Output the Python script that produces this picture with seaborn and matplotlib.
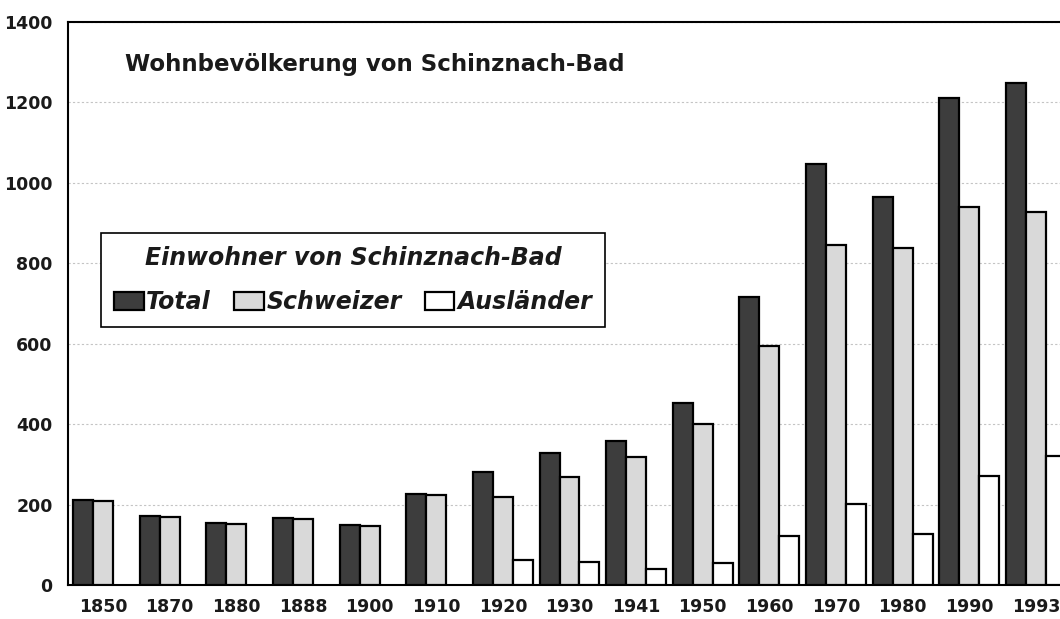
import numpy as np
import pandas as pd
import matplotlib
matplotlib.use("Agg")
import matplotlib.pyplot as plt
import seaborn as sns

# Daten: Wohnbevölkerung von Schinznach-Bad
jahre = ['1850', '1870', '1880', '1888', '1900', '1910', '1920', '1930',
         '1941', '1950', '1960', '1970', '1980', '1990', '1993']
total = [212, 172, 154, 167, 149, 226, 281, 328, 358, 453, 715, 1046, 965, 1211, 1249]
schweizer = [209, 170, 152, 165, 147, 224, 219, 269, 318, 400, 595, 846, 839, 941, 928]
auslaender = [np.nan] * 6 + [62, 57, 40, 55, 122, 201, 126, 270, 322]

gruppen = ['Total', 'Schweizer', 'Ausländer']
farben = ['#3d3d3d', '#d9d9d9', '#ffffff']

df = pd.DataFrame({
    'Jahr': jahre * 3,
    'Einwohner': total + schweizer + auslaender,
    'Gruppe': [g for g in gruppen for _ in jahre],
})

sns.set_style('white')
plt.rcParams['font.family'] = ['DejaVu Sans']

fig = plt.figure(figsize=(10.6, 6.19), dpi=100)
ax = fig.add_axes([68 / 1060, 34 / 619, 992 / 1060, 563 / 619])

sns.barplot(data=df, x='Jahr', y='Einwohner', hue='Gruppe', order=jahre,
            hue_order=gruppen, palette=farben, edgecolor='black',
            linewidth=1.6, width=0.9, gap=0, ax=ax, zorder=3)

ax.set_ylim(0, 1400)
ax.set_yticks(range(0, 1401, 200))
ax.set_xlim(-0.525, 14.36)
ax.set_xlabel('')
ax.set_ylabel('')
ax.yaxis.grid(True, color='#c4c4c4', linestyle=(0, (2, 2)), linewidth=0.8, zorder=0)
ax.xaxis.grid(False)

for s in ['left', 'bottom', 'top']:
    ax.spines[s].set_color('black')
    ax.spines[s].set_linewidth(1.5)
ax.spines['right'].set_visible(False)

ax.tick_params(axis='both', length=0, labelsize=12.5)
ax.tick_params(axis='y', pad=11)
ax.tick_params(axis='x', pad=9)
for lab in ax.get_xticklabels() + ax.get_yticklabels():
    lab.set_fontweight('bold')
    lab.set_color('#1a1a1a')

ax.text(0.0575, 0.913, 'Wohnbevölkerung von Schinznach-Bad', transform=ax.transAxes,
        fontsize=16.5, fontweight='bold', color='#1a1a1a', va='baseline', ha='left')

# Legendenkasten: links 101 px, rechts 605 px, oben 233 px, unten 324 px
leg = ax.legend(title='Einwohner von Schinznach-Bad', ncol=3, loc='upper left',
                bbox_to_anchor=(0.0333, 0.4636, 0.508, 0.1616), mode='expand',
                borderaxespad=0,
                frameon=True, fancybox=False, framealpha=1, edgecolor='black',
                prop={'size': 17, 'weight': 'bold', 'style': 'italic'},
                title_fontproperties={'size': 17, 'weight': 'bold', 'style': 'italic'},
                handlelength=1.25, handleheight=0.8, handletextpad=0.12,
                columnspacing=0.6, borderpad=0.55, labelspacing=0.85)
leg.get_frame().set_linewidth(1.2)
leg.set_zorder(5)
for t in leg.get_texts() + [leg.get_title()]:
    t.set_color('#1a1a1a')

fig.savefig('out.png', dpi=100)
